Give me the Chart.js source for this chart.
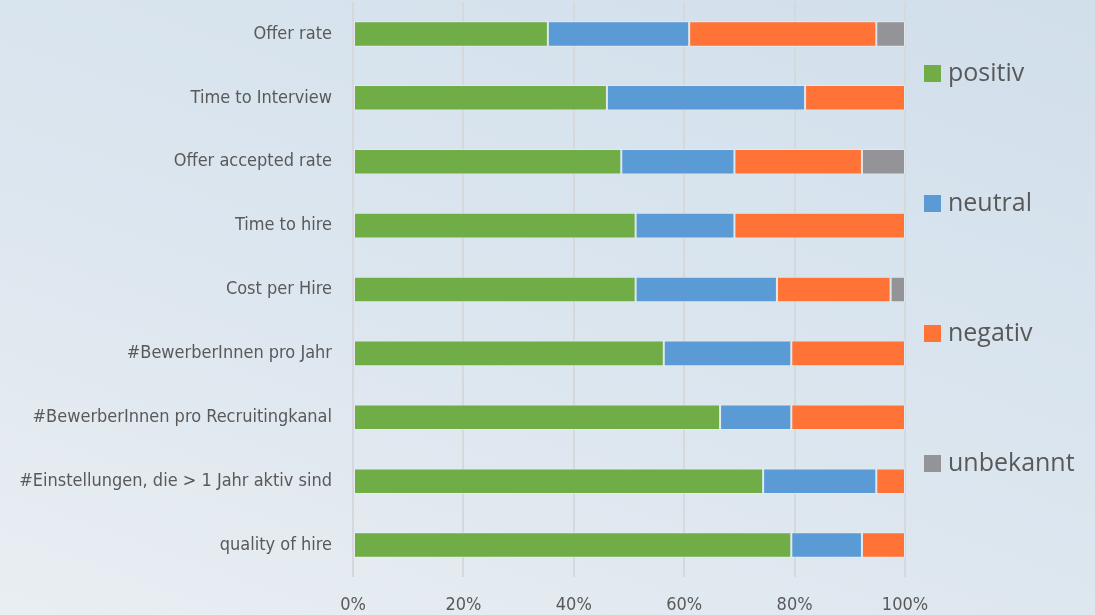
<!DOCTYPE html>
<html>
<head>
<meta charset="utf-8">
<script src="https://cdn.jsdelivr.net/npm/chart.js@4/dist/chart.umd.min.js"></script>
<style>
  html, body { margin: 0; padding: 0; }
  body {
    width: 1095px; height: 615px; overflow: hidden;
    background: linear-gradient(200deg, #d1dfeb 0%, #dce6ef 55%, #e9eef2 100%);
  }
  #wrap { position: relative; width: 1095px; height: 615px; }
</style>
</head>
<body>
<div id="wrap"><canvas id="myChart"></canvas></div>
<script>
// Kategorien (von oben nach unten)
const categories = [
  'Offer rate',
  'Time to Interview',
  'Offer accepted rate',
  'Time to hire',
  'Cost per Hire',
  '#BewerberInnen pro Jahr',
  '#BewerberInnen pro Recruitingkanal',
  '#Einstellungen, die > 1 Jahr aktiv sind',
  'quality of hire'
];

// Anteile in %
const positiv   = [35.3, 46.0, 48.6, 51.2, 51.2, 56.3, 66.5, 74.3, 79.4];
const neutral   = [25.6, 35.9, 20.5, 17.9, 25.6, 23.1, 12.9, 20.5, 12.8];
const negativ   = [33.9, 18.1, 23.1, 30.9, 20.6, 20.6, 20.6, 5.2, 7.8];
const unbekannt = [5.2, 0, 7.8, 0, 2.6, 0, 0, 0, 0];

const xTicks = [0, 20, 40, 60, 80, 100];

const seriesNames = ['positiv', 'neutral', 'negativ', 'unbekannt'];
const seriesColors = ['#70ad47', '#5b9bd5', '#ff7337', '#949398'];

const labelFont = "'Liberation Sans Narrow', 'DejaVu Sans Condensed', sans-serif";

// Legende rechts, selbst gezeichnet
const sideLegend = {
  id: 'sideLegend',
  afterDraw(chart) {
    const ctx = chart.ctx;
    ctx.save();
    ctx.font = "25px 'Open Sans', sans-serif";
    ctx.textBaseline = 'middle';
    chart.data.datasets.forEach((ds, i) => {
      const y = 73 + i * 130;
      ctx.fillStyle = ds.backgroundColor;
      ctx.fillRect(924, y - 8, 17, 17);
      ctx.fillStyle = '#595959';
      ctx.fillText(ds.label, 948, y + 1);
    });
    ctx.restore();
  }
};

const datasets = [positiv, neutral, negativ, unbekannt].map((vals, i) => ({
  label: seriesNames[i],
  data: vals,
  backgroundColor: seriesColors[i],
  borderColor: 'rgba(230,236,240,0.7)',
  borderWidth: 1,
  borderSkipped: false
}));

let ctx = document.getElementById('myChart').getContext('2d');
let myChart = new Chart(ctx, {
  type: 'bar',
  data: { labels: categories, datasets: datasets },
  options: {
    indexAxis: 'y',
    responsive: true,
    maintainAspectRatio: false,
    animation: false,
    layout: { padding: { left: 0, right: 190, top: 2, bottom: 0 } },
    datasets: { bar: { categoryPercentage: 1, barPercentage: 0.4 } },
    plugins: {
      legend: { display: false },
      tooltip: { enabled: false }
    },
    scales: {
      x: {
        stacked: true,
        min: 0,
        max: 100,
        afterBuildTicks: axis => { axis.ticks = xTicks.map(v => ({ value: v })); },
        afterFit: axis => { axis.height = 38; },
        grid: { color: '#d6d9dc', lineWidth: 2, drawTicks: false },
        border: { display: false },
        ticks: {
          padding: 18,
          color: '#595959',
          font: { family: labelFont, size: 18 },
          callback: v => v + '%'
        }
      },
      y: {
        stacked: true,
        afterFit: axis => {
          axis.width = 353;
          // sonst reserviert chart.js oben/unten Platz fuer die Labels
          axis.paddingTop = 0;
          axis.paddingBottom = 0;
        },
        grid: { display: false, drawTicks: false },
        border: { display: false },
        ticks: {
          padding: 21,
          color: '#595959',
          font: { family: labelFont, size: 18 }
        }
      }
    }
  },
  plugins: [sideLegend]
});
</script>
</body>
</html>
